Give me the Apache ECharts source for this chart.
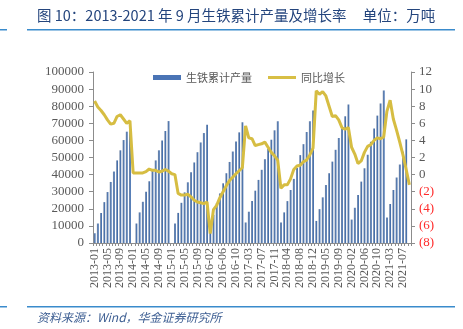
<!DOCTYPE html>
<html>
<head>
<meta charset="utf-8">
<script src="https://cdn.jsdelivr.net/npm/echarts@6/dist/echarts.min.js"></script>
<style>
html,body{margin:0;padding:0;background:#fff;}
#c{width:463px;height:329px;}
</style>
</head>
<body>
<div id="c"></div>
<script>
// ---- data ----
var categories = [
 '2013-01','2013-02','2013-03','2013-04','2013-05','2013-06','2013-07','2013-08','2013-09','2013-10','2013-11','2013-12',
 '2014-01','2014-02','2014-03','2014-04','2014-05','2014-06','2014-07','2014-08','2014-09','2014-10','2014-11','2014-12',
 '2015-01','2015-02','2015-03','2015-04','2015-05','2015-06','2015-07','2015-08','2015-09','2015-10','2015-11','2015-12',
 '2016-02','2016-03','2016-04','2016-05','2016-06','2016-07','2016-08','2016-09','2016-10','2016-11','2016-12',
 '2017-02','2017-03','2017-04','2017-05','2017-06','2017-07','2017-08','2017-09','2017-10','2017-11','2017-12',
 '2018-02','2018-03','2018-04','2018-05','2018-06','2018-07','2018-08','2018-09','2018-10','2018-11','2018-12',
 '2019-02','2019-03','2019-04','2019-05','2019-06','2019-07','2019-08','2019-09','2019-10','2019-11','2019-12',
 '2020-02','2020-03','2020-04','2020-05','2020-06','2020-07','2020-08','2020-09','2020-10','2020-11','2020-12',
 '2021-02','2021-03','2021-04','2021-05','2021-06','2021-07','2021-08','2021-09'
];
// 生铁累计产量 (万吨)
var production = [
 5700,11400,17600,23900,29800,35700,41800,48300,54200,60200,65100,71000,
 null,11400,17900,24100,30000,36100,42200,48300,54200,60000,65500,71300,
 null,11400,17600,23500,29600,35500,41400,47100,53100,58800,64300,69200,
 10000,16500,23200,29000,34900,40800,47400,53500,59400,64700,70600,
 12000,18300,24500,30600,36900,42800,49000,54900,60400,65900,71200,
 12000,17900,24500,31000,37500,43800,51400,57800,64900,71200,77500,
 12900,19800,26700,33900,40800,47600,54500,61400,68200,74100,81000,
 13700,20600,28000,35900,43700,51600,59200,66900,74500,81600,89200,
 14900,22800,31000,38300,45900,53300,60600,null
];
// 同比增长 (%)
var growth = [
 8.6,7.9,7.5,7.0,6.4,5.9,6.0,6.8,7.0,6.5,6.0,6.3,
 0.2,0.2,0.2,0.2,0.35,0.65,0.5,0.5,0.3,0.4,0.6,0.4,
 0.1,0.0,-2.2,-2.4,-2.4,-2.3,-2.6,-3.0,-3.2,-3.3,-3.4,-3.2,
 -6.9,-4.1,-3.6,-2.7,-2.0,-1.3,-0.7,-0.3,0.1,0.45,0.8,
 5.7,4.3,4.2,3.4,3.5,3.6,3.8,3.2,2.6,2.2,1.7,
 -1.6,-1.2,-1.2,-0.5,0.6,1.0,1.1,1.5,1.7,2.3,3.1,
 9.8,9.4,9.7,9.2,8.0,6.8,6.9,6.4,5.5,5.3,5.5,
 3.2,2.4,1.3,1.6,2.6,3.3,3.5,4.0,4.3,4.2,4.4,
 7.4,8.7,6.5,5.2,3.8,2.3,0.6,-1.2
];
var seriesNames = ['生铁累计产量','同比增长'];
var titleText = '图 10：2013-2021 年 9 月生铁累计产量及增长率     单位：万吨';
var sourceText = '资料来源：Wind，华金证券研究所';

var chart = echarts.init(document.getElementById('c'), null, {renderer:'canvas'});
var serif = 'Liberation Serif';
var cjk = 'Noto Sans CJK SC';
var axisGray = '#8c8c8c';
var barColor = new echarts.graphic.LinearGradient(0,0,1,0,[
  {offset:0,color:'#7d8fab'},{offset:1,color:'#2f63ad'}]);

var option = {
  animation:false,
  backgroundColor:'#fff',
  grid:{left:93,right:52,top:72,bottom:86,containLabel:false},
  legend:{
    left:148, top:67, itemWidth:28, itemHeight:5, itemGap:16,
    textStyle:{fontFamily:cjk,fontSize:11,color:'#595959'},
    data:[{name:seriesNames[0],icon:'rect',itemStyle:{color:'#4a74b5'}},
          {name:seriesNames[1],icon:'path://M0,0L28,0L28,3L0,3Z',itemStyle:{color:'#d8bf45'}}]
  },
  xAxis:{
    type:'category', data:categories, boundaryGap:true,
    axisLine:{lineStyle:{color:axisGray,width:1}},
    axisTick:{show:true,interval:0,length:3,lineStyle:{color:axisGray}},
    axisLabel:{interval:3,rotate:90,margin:5,fontFamily:serif,fontSize:12,color:'#595959'},
    splitLine:{show:false}
  },
  yAxis:[{
    type:'value', min:0, max:100000, interval:10000,
    axisLine:{show:true,lineStyle:{color:axisGray}},
    axisTick:{show:true,length:4,lineStyle:{color:axisGray}},
    axisLabel:{margin:9,fontFamily:serif,fontSize:13,color:'#595959',
      formatter:function(v){return String(v);}},
    splitLine:{show:false}
  },{
    type:'value', min:-8, max:12, interval:2, position:'right',
    axisLine:{show:true,lineStyle:{color:axisGray}},
    axisTick:{show:true,length:4,lineStyle:{color:axisGray}},
    axisLabel:{margin:8,fontFamily:serif,fontSize:13,color:'#595959',
      formatter:function(v){return v<0?'{neg|('+Math.abs(v)+')}':String(v);},
      rich:{neg:{color:'#ff2b2b',fontFamily:serif,fontSize:13}}},
    splitLine:{show:false}
  }],
  series:[{
    name:seriesNames[0], type:'bar', data:production, yAxisIndex:0,
    barWidth:'58%', itemStyle:{color:barColor}
  },{
    name:seriesNames[1], type:'line', data:growth, yAxisIndex:1,
    symbol:'none', connectNulls:true, smooth:false,
    lineStyle:{color:'#d6bd42',width:3},
    itemStyle:{color:'#d6bd42'}, z:5
  }],
  graphic:[
    {type:'text',left:37,top:8,style:{text:titleText,fontFamily:cjk,fontSize:14.5,fill:'#24457d'}},
    {type:'rect',shape:{x:27,y:29,width:428,height:1.5},style:{fill:'#3a8bcc'}},
    {type:'rect',shape:{x:0,y:29,width:7,height:1.5},style:{fill:'#3a8bcc'}},
    {type:'rect',shape:{x:27,y:306,width:428,height:1.5},style:{fill:'#3a8bcc'}},
    {type:'rect',shape:{x:0,y:306,width:7,height:1.5},style:{fill:'#3a8bcc'}},
    {type:'text',left:37,top:311,style:{text:sourceText,fontFamily:cjk,fontSize:12,fontStyle:'italic',fill:'#3e5f93'}}
  ]
};
chart.setOption(option);
</script>
</body>
</html>
